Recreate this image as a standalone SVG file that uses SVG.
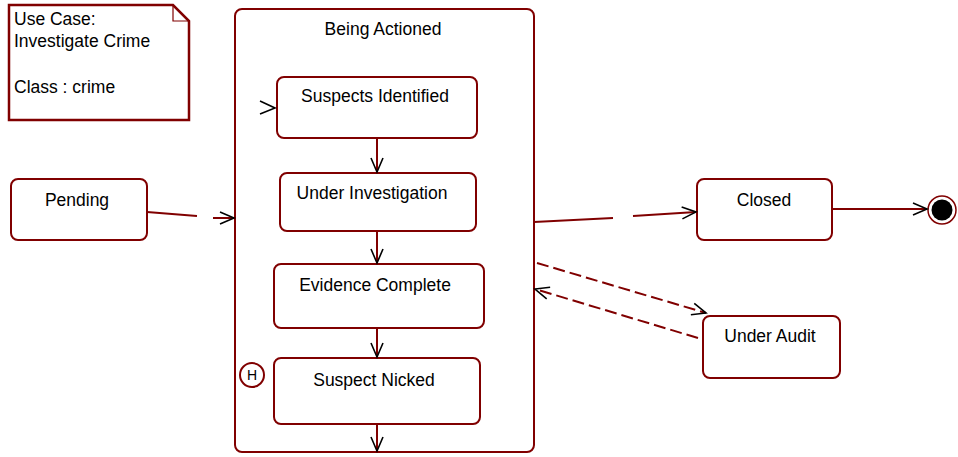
<svg xmlns="http://www.w3.org/2000/svg" width="958" height="457" viewBox="0 0 958 457">
<style>
.box{fill:#fff;stroke:#800000;stroke-width:2}
.lbl{font-family:"Liberation Sans",Arial,sans-serif;font-size:17.5px;fill:#000;text-anchor:middle}
.note{font-family:"Liberation Sans",Arial,sans-serif;font-size:17.5px;fill:#000}
.conn{fill:none;stroke:#800000;stroke-width:2}
.dash{stroke-dasharray:12,5}
</style>
<defs>
<marker id="arr" markerUnits="userSpaceOnUse" markerWidth="20" markerHeight="20" viewBox="-16 -10 20 20" refX="0" refY="0" orient="auto">
<path d="M-14,-6 L0,0 L-14,6" fill="none" stroke="#000" stroke-width="1.6"/>
</marker>
</defs>
<rect width="958" height="457" fill="#fff"/>
<g id="note">
<path d="M9,5 L173,5 L189,21 L189,120 L9,120 Z" fill="#fff" stroke="#800000" stroke-width="2.5"/>
<path d="M173,5 L173,21 L189,21" fill="none" stroke="#800000" stroke-width="1.2"/>
<text class="note" x="14" y="25">Use Case:</text>
<text class="note" x="14" y="47">Investigate Crime</text>
<text class="note" x="14" y="93">Class : crime</text>
</g>
<g id="being-actioned">
<rect class="box" x="235" y="9" width="299" height="443" rx="7"/>
<text class="lbl" x="383" y="35">Being Actioned</text>
</g>
<g id="suspects-identified">
<rect class="box" x="277" y="77" width="200" height="61" rx="7"/>
<text class="lbl" x="375" y="102">Suspects Identified</text>
</g>
<g id="under-investigation">
<rect class="box" x="280" y="173" width="196" height="58" rx="7"/>
<text class="lbl" x="372" y="199">Under Investigation</text>
</g>
<g id="evidence-complete">
<rect class="box" x="274" y="264" width="210" height="64" rx="7"/>
<text class="lbl" x="375" y="291">Evidence Complete</text>
</g>
<g id="suspect-nicked">
<rect class="box" x="274" y="358" width="206" height="66" rx="7"/>
<text class="lbl" x="374" y="386">Suspect Nicked</text>
</g>
<g id="history">
<circle cx="252" cy="375" r="12" fill="#fff" stroke="#800000" stroke-width="2"/>
<text x="252" y="380" font-family="Liberation Sans, Arial, sans-serif" font-size="14" fill="#000" text-anchor="middle">H</text>
</g>
<g id="pending">
<rect class="box" x="11" y="179" width="136" height="61" rx="7"/>
<text class="lbl" x="77" y="206">Pending</text>
</g>
<g id="closed">
<rect class="box" x="697" y="179" width="135" height="61" rx="7"/>
<text class="lbl" x="764" y="206">Closed</text>
</g>
<g id="under-audit">
<rect class="box" x="703" y="316" width="137" height="62" rx="7"/>
<text class="lbl" x="770" y="342">Under Audit</text>
</g>
<g id="final">
<circle cx="942" cy="210" r="14" fill="#fff" stroke="#800000" stroke-width="1.5"/>
<circle cx="942" cy="210" r="10.5" fill="#000"/>
</g>
<g id="connectors">
<path d="M260,101 L275,108 L260,114" fill="none" stroke="#000" stroke-width="1.6"/>
<path class="conn" d="M377,138 L377,172" marker-end="url(#arr)"/>
<path class="conn" d="M377,231 L377,263" marker-end="url(#arr)"/>
<path class="conn" d="M377,328 L377,357" marker-end="url(#arr)"/>
<path class="conn" d="M377,424 L377,451" marker-end="url(#arr)"/>
<path class="conn" d="M147,212 L197,216 M213,218 L234,218" marker-end="url(#arr)"/>
<path class="conn" d="M534,222 L613,218 M633,216 L696,212" marker-end="url(#arr)"/>
<path class="conn" d="M832,209 L927,209" marker-end="url(#arr)"/>
<path class="conn dash" d="M537,263 L706,313" marker-end="url(#arr)"/>
<path class="conn dash" d="M698,338 L535,289" marker-end="url(#arr)"/>
</g>
</svg>
